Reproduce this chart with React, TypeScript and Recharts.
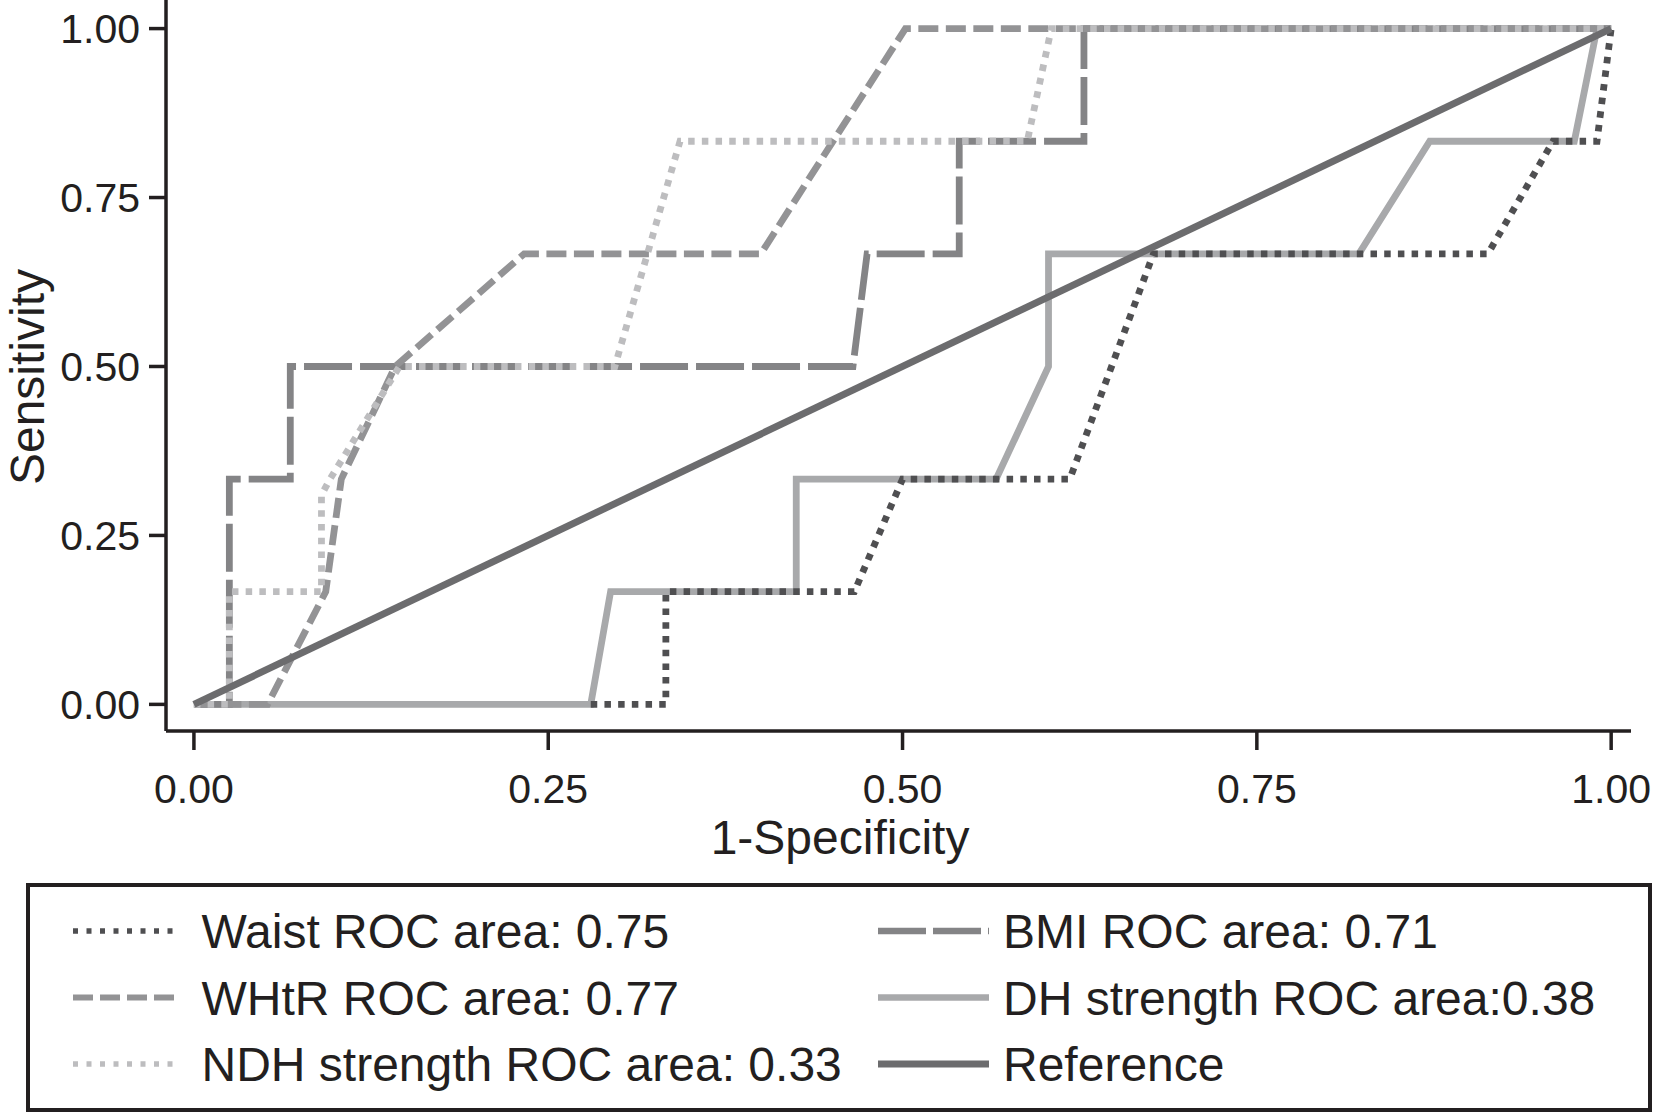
import { LineChart, Line, XAxis, YAxis, Legend } from 'recharts'

const FONT = '"Liberation Sans", Arial, Helvetica, sans-serif'
const INK = '#231f20'

// ROC points: fpr = 1-specificity, tpr = sensitivity
// (waist's run along the baseline is hidden under DH until ~0.28)
const waist = [
  { fpr: 0.28, tpr: 0 },
  { fpr: 0.333, tpr: 0 },
  { fpr: 0.333, tpr: 0.1667 },
  { fpr: 0.466, tpr: 0.1667 },
  { fpr: 0.5, tpr: 0.3333 },
  { fpr: 0.618, tpr: 0.3333 },
  { fpr: 0.677, tpr: 0.6667 },
  { fpr: 0.913, tpr: 0.6667 },
  { fpr: 0.959, tpr: 0.8333 },
  { fpr: 0.99, tpr: 0.8333 },
  { fpr: 1, tpr: 1 },
]

const bmi = [
  { fpr: 0, tpr: 0 },
  { fpr: 0.025, tpr: 0 },
  { fpr: 0.025, tpr: 0.3333 },
  { fpr: 0.068, tpr: 0.3333 },
  { fpr: 0.068, tpr: 0.5 },
  { fpr: 0.465, tpr: 0.5 },
  { fpr: 0.475, tpr: 0.6667 },
  { fpr: 0.54, tpr: 0.6667 },
  { fpr: 0.54, tpr: 0.8333 },
  { fpr: 0.628, tpr: 0.8333 },
  { fpr: 0.628, tpr: 1 },
  { fpr: 1, tpr: 1 },
]

const whtr = [
  { fpr: 0, tpr: 0 },
  { fpr: 0.052, tpr: 0 },
  { fpr: 0.093, tpr: 0.1667 },
  { fpr: 0.104, tpr: 0.3333 },
  { fpr: 0.142, tpr: 0.5 },
  { fpr: 0.233, tpr: 0.6667 },
  { fpr: 0.4, tpr: 0.6667 },
  { fpr: 0.502, tpr: 1 },
  { fpr: 1, tpr: 1 },
]

const dhStrength = [
  { fpr: 0, tpr: 0 },
  { fpr: 0.28, tpr: 0 },
  { fpr: 0.294, tpr: 0.1667 },
  { fpr: 0.425, tpr: 0.1667 },
  { fpr: 0.425, tpr: 0.3333 },
  { fpr: 0.566, tpr: 0.3333 },
  { fpr: 0.603, tpr: 0.5 },
  { fpr: 0.603, tpr: 0.6667 },
  { fpr: 0.822, tpr: 0.6667 },
  { fpr: 0.872, tpr: 0.8333 },
  { fpr: 0.974, tpr: 0.8333 },
  { fpr: 0.99, tpr: 1 },
  { fpr: 1, tpr: 1 },
]

const ndhStrength = [
  { fpr: 0, tpr: 0 },
  { fpr: 0.025, tpr: 0 },
  { fpr: 0.025, tpr: 0.1667 },
  { fpr: 0.09, tpr: 0.1667 },
  { fpr: 0.09, tpr: 0.31 },
  { fpr: 0.096, tpr: 0.3333 },
  { fpr: 0.145, tpr: 0.5 },
  { fpr: 0.297, tpr: 0.5 },
  { fpr: 0.343, tpr: 0.8333 },
  { fpr: 0.588, tpr: 0.8333 },
  { fpr: 0.605, tpr: 1 },
  { fpr: 1, tpr: 1 },
]

const reference = [
  { fpr: 0, tpr: 0 },
  { fpr: 1, tpr: 1 },
]

const axisTicks = [0, 0.25, 0.5, 0.75, 1]

// legend order is row by row: Waist, BMI / WHtR, DH / NDH, Reference
const series = [
  { key: 'waist', name: 'Waist ROC area: 0.75', data: waist, color: '#4f4f51', dash: '6.5 7.2', legendDash: '5 8.5', legendWidth: 5.5 },
  { key: 'bmi', name: 'BMI ROC area: 0.71', data: bmi, color: '#848486', dash: '48 8', legendDash: '48 7', legendWidth: 6.5 },
  { key: 'whtr', name: 'WHtR ROC area: 0.77', data: whtr, color: '#939395', dash: '20 7.5', legendDash: '20 7', legendWidth: 6 },
  { key: 'dh', name: 'DH strength ROC area:0.38', data: dhStrength, color: '#a8a9ab', dash: undefined, legendDash: undefined, legendWidth: 6.5 },
  { key: 'ndh', name: 'NDH strength ROC area: 0.33', data: ndhStrength, color: '#bdbdbf', dash: '6.5 7.2', legendDash: '5 8.5', legendWidth: 5.5 },
  { key: 'ref', name: 'Reference', data: reference, color: '#6c6c6e', dash: undefined, legendDash: undefined, legendWidth: 7 },
]

// painting order so the overlaps look like the figure
const drawOrder = ['dh', 'bmi', 'whtr', 'waist', 'ndh', 'ref']

const fmt = (v: number) => v.toFixed(2)

const LegendBox = () => (
  <svg width={1626} height={229} style={{ display: 'block' }}>
    <rect x={2} y={2} width={1622} height={225} fill="#fff" stroke={INK} strokeWidth={4} />
    {series.map((s, i) => {
      const col = i % 2
      const row = Math.floor(i / 2)
      const y = 48 + row * 66.5
      const x0 = col === 0 ? 47 : 852
      const len = col === 0 ? 105 : 111
      const tx = col === 0 ? 175.5 : 977
      return (
        <g key={s.key}>
          <line
            x1={x0}
            x2={x0 + len}
            y1={y}
            y2={y}
            stroke={s.color}
            strokeWidth={s.legendWidth}
            strokeDasharray={s.legendDash}
          />
          <text x={tx} y={y + 17} fontSize={48} fontFamily={FONT} fill={INK}>
            {s.name}
          </text>
        </g>
      )
    })}
  </svg>
)

const App = () => {
  const ordered = drawOrder.map((k) => series.find((s) => s.key === k)!)
  return (
    <div style={{ position: 'absolute', left: 0, top: 0, width: 1661, height: 1112, background: '#fff' }}>
      <LineChart width={1661} height={1112} margin={{ top: 0, right: 30, bottom: 251, left: 0 }}>
        <XAxis
          type="number"
          dataKey="fpr"
          domain={[-0.0197, 1.014]}
          allowDataOverflow
          ticks={axisTicks}
          interval={0}
          tickFormatter={fmt}
          height={130}
          tickSize={19}
          tickMargin={24}
          axisLine={{ stroke: INK, strokeWidth: 3.5 }}
          tickLine={{ stroke: INK, strokeWidth: 3.5 }}
          tick={{ fill: INK, fontSize: 41, fontFamily: FONT }}
          label={{
            content: () => (
              <text x={840} y={854} textAnchor="middle" fontSize={48} fontFamily={FONT} fill={INK}>
                1-Specificity
              </text>
            ),
          }}
        />
        <YAxis
          type="number"
          dataKey="tpr"
          domain={[-0.0394, 1.0423]}
          allowDataOverflow
          ticks={axisTicks}
          interval={0}
          tickFormatter={fmt}
          width={166}
          tickSize={17}
          tickMargin={9}
          axisLine={{ stroke: INK, strokeWidth: 3.5 }}
          tickLine={{ stroke: INK, strokeWidth: 3.5 }}
          tick={{ fill: INK, fontSize: 41, fontFamily: FONT }}
          label={{
            content: () => (
              <text
                x={44}
                y={377}
                transform="rotate(-90 44 377)"
                textAnchor="middle"
                fontSize={48}
                fontFamily={FONT}
                fill={INK}
              >
                Sensitivity
              </text>
            ),
          }}
        />
        {ordered.map((s) => (
          <Line
            key={s.key}
            data={s.data}
            dataKey="tpr"
            name={s.name}
            type="linear"
            stroke={s.color}
            strokeWidth={s.key === 'ref' ? 7 : 6.8}
            strokeDasharray={s.dash}
            strokeLinejoin="miter"
            dot={false}
            activeDot={false}
            isAnimationActive={false}
          />
        ))}
        <Legend
          layout="vertical"
          align="center"
          verticalAlign="middle"
          wrapperStyle={{ left: 26, top: 883, width: 1626, height: 229 }}
          content={() => <LegendBox />}
        />
      </LineChart>
    </div>
  )
}

export default App
